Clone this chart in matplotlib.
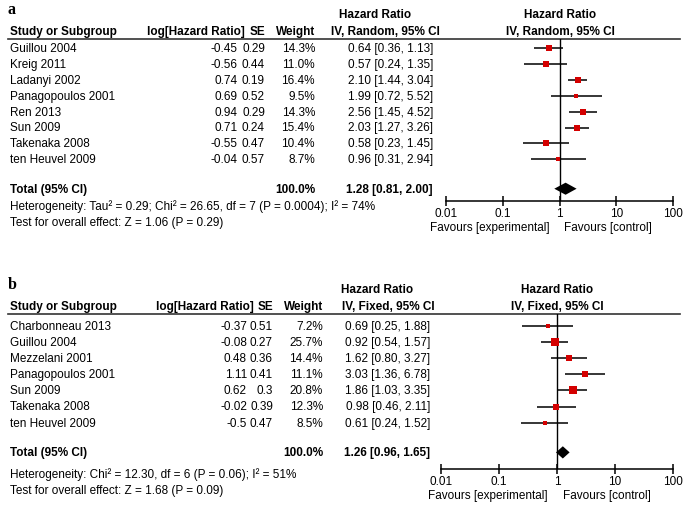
import numpy as np
import matplotlib
matplotlib.use("Agg")
from matplotlib import pyplot as plt

plt.rcParams['font.family'] = ['Liberation Sans', 'DejaVu Sans']

# ---- panel a data
a_names = ["Guillou 2004", "Kreig 2011", "Ladanyi 2002", "Panagopoulos 2001",
           "Ren 2013", "Sun 2009", "Takenaka 2008", "ten Heuvel 2009"]
a_loghr = ["-0.45", "-0.56", "0.74", "0.69", "0.94", "0.71", "-0.55", "-0.04"]
a_se = ["0.29", "0.44", "0.19", "0.52", "0.29", "0.24", "0.47", "0.57"]
a_weight = [14.3, 11.0, 16.4, 9.5, 14.3, 15.4, 10.4, 8.7]
a_hr = [0.64, 0.57, 2.10, 1.99, 2.56, 2.03, 0.58, 0.96]
a_lo = [0.36, 0.24, 1.44, 0.72, 1.45, 1.27, 0.23, 0.31]
a_hi = [1.13, 1.35, 3.04, 5.52, 4.52, 3.26, 1.45, 2.94]
a_total = (1.28, 0.81, 2.00)
a_method = "IV, Random, 95% CI"
a_het = "Heterogeneity: Tau\u00b2 = 0.29; Chi\u00b2 = 26.65, df = 7 (P = 0.0004); I\u00b2 = 74%"
a_test = "Test for overall effect: Z = 1.06 (P = 0.29)"

# ---- panel b data
b_names = ["Charbonneau 2013", "Guillou 2004", "Mezzelani 2001", "Panagopoulos 2001",
           "Sun 2009", "Takenaka 2008", "ten Heuvel 2009"]
b_loghr = ["-0.37", "-0.08", "0.48", "1.11", "0.62", "-0.02", "-0.5"]
b_se = ["0.51", "0.27", "0.36", "0.41", "0.3", "0.39", "0.47"]
b_weight = [7.2, 25.7, 14.4, 11.1, 20.8, 12.3, 8.5]
b_hr = [0.69, 0.92, 1.62, 3.03, 1.86, 0.98, 0.61]
b_lo = [0.25, 0.54, 0.80, 1.36, 1.03, 0.46, 0.24]
b_hi = [1.88, 1.57, 3.27, 6.78, 3.35, 2.11, 1.52]
b_total = (1.26, 0.96, 1.65)
b_method = "IV, Fixed, 95% CI"
b_het = "Heterogeneity: Chi\u00b2 = 12.30, df = 6 (P = 0.06); I\u00b2 = 51%"
b_test = "Test for overall effect: Z = 1.68 (P = 0.09)"

ticks = [0.01, 0.1, 1, 10, 100]
tick_labels = ["0.01", "0.1", "1", "10", "100"]

W, H = 685, 510
fig = plt.figure(figsize=(W / 100, H / 100), dpi=100)
bg = fig.add_axes([0, 0, 1, 1])
bg.set_xlim(0, W)
bg.set_ylim(H, 0)
bg.axis('off')

FS = 8.5
RED = '#d40000'


def panel(letter, names, loghr, se, weight, hr, lo, hi, total, method, het, test,
          top, y0, dy, axis_y, x_lo, x_hi, cols, hdr_hr_x, hdr_ci_right, plot_c,
          fav_l, fav_r):
    n = len(names)
    row = lambda i: y0 + dy * i
    tot_i = n + 0.85

    bg.text(8, top - 30, letter, fontsize=11.5, fontweight='bold',
            family='Liberation Serif', va='center', ha='left')
    # headers
    bg.text(hdr_hr_x, top - 25, "Hazard Ratio", fontsize=FS, fontweight='bold', ha='center', va='center')
    bg.text(plot_c, top - 25, "Hazard Ratio", fontsize=FS, fontweight='bold', ha='center', va='center')
    hy = top - 8
    bg.text(10, hy, "Study or Subgroup", fontsize=FS, fontweight='bold', va='center')
    bg.text(cols[0] + 7, hy, "log[Hazard Ratio]", fontsize=FS, fontweight='bold', ha='right', va='center')
    bg.text(cols[1], hy, "SE", fontsize=FS, fontweight='bold', ha='right', va='center')
    bg.text(cols[2], hy, "Weight", fontsize=FS, fontweight='bold', ha='right', va='center')
    bg.text(hdr_ci_right, hy, method, fontsize=FS, fontweight='bold', ha='right', va='center')
    bg.text(plot_c, hy, method, fontsize=FS, fontweight='bold', ha='center', va='center')
    bg.plot([8, 680], [top, top], color='#333333', lw=1.2)

    for i in range(n):
        y = row(i)
        bg.text(10, y, names[i], fontsize=FS, va='center')
        bg.text(cols[0], y, loghr[i], fontsize=FS, ha='right', va='center')
        bg.text(cols[1], y, se[i], fontsize=FS, ha='right', va='center')
        bg.text(cols[2], y, f"{weight[i]:.1f}%", fontsize=FS, ha='right', va='center')
        bg.text(cols[3], y, f"{hr[i]:.2f} [{lo[i]:.2f}, {hi[i]:.2f}]", fontsize=FS, ha='right', va='center')

    ty = row(tot_i)
    bg.text(10, ty, "Total (95% CI)", fontsize=FS, fontweight='bold', va='center')
    bg.text(cols[2], ty, f"{sum(weight):.1f}%", fontsize=FS, fontweight='bold', ha='right', va='center')
    bg.text(cols[3], ty, f"{total[0]:.2f} [{total[1]:.2f}, {total[2]:.2f}]", fontsize=FS,
            fontweight='bold', ha='right', va='center')
    bg.text(10, axis_y + 5, het, fontsize=FS, va='center')
    bg.text(10, axis_y + 21, test, fontsize=FS, va='center')

    # forest plot axes
    ax = fig.add_axes([x_lo / W, 1 - axis_y / H, (x_hi - x_lo) / W, (axis_y - top) / H])
    ax.set_xscale('log')
    ax.set_xlim(0.01, 100)
    ax.set_ylim((axis_y - y0) / dy, (top - y0) / dy)
    ax.patch.set_alpha(0)
    for s in ['top', 'left', 'right']:
        ax.spines[s].set_visible(False)
    ax.spines['bottom'].set_linewidth(1.1)
    ax.set_yticks([])
    ax.set_xticks(ticks)
    ax.set_xticklabels(tick_labels, fontsize=FS)
    ax.xaxis.set_minor_locator(matplotlib.ticker.NullLocator())
    ax.tick_params(axis='x', direction='inout', length=7, width=1.1, pad=1)
    ax.axvline(1, color='black', lw=1)

    ys = np.arange(n)
    ax.hlines(ys, lo, hi, color='black', lw=1.1)
    for i in range(n):
        side = 1.6 * np.sqrt(weight[i])
        ax.plot(hr[i], ys[i], marker='s', ms=side * 0.72, color=RED, mec=RED, mew=0)
    est, l, h = total
    ax.fill([l, est, h, est], [tot_i, tot_i - 0.38, tot_i, tot_i + 0.38], color='black', lw=0)

    bg.text(fav_l, axis_y + 26, "Favours [experimental]", fontsize=FS, ha='center', va='center')
    bg.text(fav_r, axis_y + 26, "Favours [control]", fontsize=FS, ha='center', va='center')


panel('a', a_names, a_loghr, a_se, a_weight, a_hr, a_lo, a_hi, a_total, a_method, a_het, a_test,
      top=40, y0=49, dy=15.9, axis_y=202, x_lo=446, x_hi=673,
      cols=[238, 265, 315, 433], hdr_hr_x=375, hdr_ci_right=440, plot_c=560,
      fav_l=490, fav_r=608)

panel('b', b_names, b_loghr, b_se, b_weight, b_hr, b_lo, b_hi, b_total, b_method, b_het, b_test,
      top=315, y0=327, dy=16.1, axis_y=470, x_lo=441, x_hi=673,
      cols=[247, 273, 323, 430], hdr_hr_x=377, hdr_ci_right=435, plot_c=557,
      fav_l=488, fav_r=607)

fig.savefig("out.png", dpi=100)
